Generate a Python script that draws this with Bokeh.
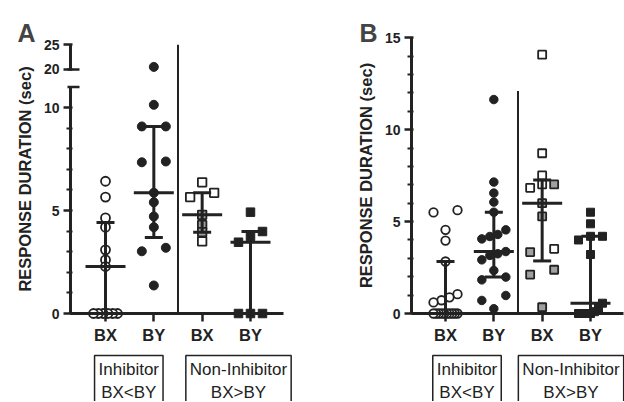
import numpy as np
from bokeh.plotting import figure
from bokeh.models import FixedTicker, Label, LinearAxis
from bokeh.layouts import row
from bokeh.embed import file_html
from bokeh.resources import INLINE

# ---------------- data ----------------
categories = ["BX", "BY", "BX", "BY"]
group_names = ["Inhibitor\nBX<BY", "Non-Inhibitor\nBX>BY"]
y_title = "RESPONSE DURATION (sec)"

# Panel A
a_inh_bx = [6.42, 5.65, 4.64, 4.19, 3.09, 2.60, 2.28, 0, 0, 0, 0, 0, 0]
a_inh_by = [20.5, 10.13, 9.08, 9.08, 7.38, 7.34, 5.86, 5.40, 4.71, 4.19, 3.19, 3.02, 1.36]
a_non_bx = [6.37, 5.86, 5.65, 4.79, 4.30, 3.95, 3.50]
a_non_bx_subgroup = [0, 0, 0, 1, 1, 1, 0]
a_non_by = [4.92, 3.98, 3.74, 3.46, 0, 0, 0]

# Panel B
b_inh_bx = [5.62, 5.50, 4.55, 3.97, 2.83, 1.05, 0.88, 0.72, 0.60,
            0, 0, 0, 0, 0, 0, 0, 0, 0, 0]
b_inh_by = [11.64, 7.15, 6.55, 6.06, 5.51, 4.55, 4.30, 4.19, 4.06, 3.37,
            3.25, 3.16, 2.92, 2.34, 1.98, 1.83, 0.98, 0.71, 0.26]
b_non_bx = [14.08, 8.72, 7.51, 7.02, 7.02, 6.84, 6.00, 5.28, 3.52, 3.34,
            2.38, 2.12, 0.34]
b_non_bx_subgroup = [0, 0, 0, 1, 0, 0, 1, 1, 0, 1, 1, 1, 1]
b_non_by = [5.51, 4.88, 4.20, 4.20, 4.00, 3.21, 0.56, 0.30, 0.10, 0, 0, 0, 0]

# ---------------- styling / layout ----------------
INK = "#222222"
GREY = "#a0a0a0"
FONT = "Liberation Sans"
PPU_X = 48.33          # px per category step
W, H = 312, 401
ZERO_PX = 313          # page y of value 0


def swarm(vals, ppu_y, gap_px=6.0, width_px=24.0):
    order = sorted(range(len(vals)), key=lambda i: -vals[i])
    rows = []
    for i in order:
        if rows and (vals[rows[-1][-1]] - vals[i]) * ppu_y <= gap_px:
            rows[-1].append(i)
        else:
            rows.append([i])
    offs = [0.0] * len(vals)
    for r in rows:
        k = len(r)
        if k > 1:
            step = width_px / (k - 1)
            for j, i in enumerate(reversed(r)):
                offs[i] = (j - (k - 1) / 2) * step / PPU_X
    return offs


def style_axis(ax):
    ax.axis_line_color = INK
    ax.axis_line_width = 3
    ax.major_tick_line_color = INK
    ax.minor_tick_line_color = INK
    ax.major_tick_line_width = 2.5
    ax.minor_tick_line_width = 2
    ax.major_label_text_font = FONT
    ax.major_label_text_font_style = "bold"
    ax.major_label_text_color = INK


def build(letter, groups, subgroup, tf, ppu_y, origin_x, cat0_px, axis_px, right_px,
          y_axes, y_top, caps, sep_top, box_x, letter_px, msize):
    px2x = lambda px: (px - cat0_px) / PPU_X
    x_start, x_end = px2x(origin_x), px2x(origin_x + W)
    y_start, y_end = (ZERO_PX - H) / ppu_y, ZERO_PX / ppu_y
    p = figure(width=W, height=H, x_range=(x_start, x_end), y_range=(y_start, y_end),
               output_backend="svg", toolbar_location=None,
               x_axis_location=None, y_axis_location=None, min_border=0)
    p.outline_line_color = None
    p.grid.visible = False
    p.background_fill_color = "white"
    p.border_fill_color = "white"
    xa = px2x(axis_px)

    # points
    for gi, vals in enumerate(groups):
        tv = [tf(v) for v in vals]
        offs = swarm(tv, ppu_y)
        xs = [gi + o for o in offs]
        if gi == 0:
            p.scatter(xs, tv, marker="circle", size=msize, fill_color="white",
                      line_color=INK, line_width=1.8)
        elif gi == 1:
            p.scatter(xs, tv, marker="circle", size=msize, fill_color=INK,
                      line_color=INK, line_width=1)
        elif gi == 2:
            fills = [GREY if s else "white" for s in subgroup]
            p.scatter(xs, tv, marker="square", size=msize - 0.5, fill_color=fills,
                      line_color=INK, line_width=1.8)
        else:
            p.scatter(xs, tv, marker="square", size=msize - 0.5, fill_color=INK,
                      line_color=INK, line_width=1)

    # median with interquartile range
    capw = 9 / PPU_X
    medw = 20 / PPU_X
    for gi, vals in enumerate(groups):
        q1, med, q3 = np.percentile(vals, [25, 50, 75], method="weibull")
        q1, med, q3 = tf(q1), tf(med), tf(q3)
        p.segment(x0=[gi, gi - capw, gi - capw, gi - medw],
                  y0=[q1, q1, q3, med],
                  x1=[gi, gi + capw, gi + capw, gi + medw],
                  y1=[q3, q1, q3, med], line_color=INK, line_width=3)

    # separator between the two groups
    p.segment(x0=[1.5], y0=[0], x1=[1.5], y1=[sep_top], line_color=INK, line_width=2)

    # axis break caps
    if caps:
        p.segment(x0=[xa - 3 / PPU_X] * len(caps), y0=caps,
                  x1=[xa + 9 / PPU_X] * len(caps), y1=caps,
                  line_color=INK, line_width=2.5)

    # y axes (one per unbroken segment), drawn at a fixed location
    for bounds, ticks, minor, overrides in y_axes:
        ax = LinearAxis(fixed_location=xa, bounds=bounds,
                        ticker=FixedTicker(ticks=ticks, minor_ticks=minor),
                        major_label_overrides=overrides)
        style_axis(ax)
        ax.major_tick_out = 7
        ax.major_tick_in = 2
        ax.minor_tick_out = 4
        ax.minor_tick_in = 2
        ax.major_label_text_font_size = "14px"
        ax.major_label_standoff = 4
        p.add_layout(ax, "left")

    # axis carrying only the title, centred on the whole axis extent
    tax = LinearAxis(fixed_location=xa, bounds=(0, y_top),
                     ticker=FixedTicker(ticks=[], minor_ticks=[]))
    tax.axis_line_alpha = 0
    tax.major_tick_out = 0
    tax.major_tick_in = 0
    tax.minor_tick_out = 0
    tax.minor_tick_in = 0
    tax.axis_label = y_title
    tax.axis_label_text_font = FONT
    tax.axis_label_text_font_style = "bold"
    tax.axis_label_text_font_size = "16.5px"
    tax.axis_label_text_color = INK
    tax.axis_label_standoff = 37
    p.add_layout(tax, "left")

    # x axis at value 0
    xax = LinearAxis(fixed_location=0, bounds=(xa, px2x(right_px)),
                     ticker=FixedTicker(ticks=list(range(len(categories))), minor_ticks=[]),
                     major_label_overrides={i: c for i, c in enumerate(categories)})
    style_axis(xax)
    xax.major_tick_out = 8
    xax.major_tick_in = 0
    xax.minor_tick_out = 0
    xax.minor_tick_in = 0
    xax.major_label_text_font_size = "16.5px"
    xax.major_label_standoff = 4
    p.add_layout(xax, "below")

    # panel letter
    p.add_layout(Label(x=px2x(letter_px), y=(ZERO_PX - 32) / ppu_y,
                       text=letter, text_font=FONT, text_font_style="bold",
                       text_font_size="25px", text_color="#444444",
                       text_baseline="alphabetic"))
    # group boxes
    for bx, name in zip(box_x, group_names):
        p.add_layout(Label(x=bx, y=(ZERO_PX - 355) / ppu_y, text=name,
                           text_align="center", text_baseline="top",
                           text_font=FONT, text_font_size="17px",
                           text_color=INK, text_line_height=1.22,
                           border_line_color=INK, border_line_width=1.5,
                           background_fill_color="white", padding=4))
    return p


def tf_a(v):
    return v if v <= 11 else 11.85 + (v - 20) * 0.24


def tf_b(v):
    return v


pA = build("A", [a_inh_bx, a_inh_by, a_non_bx, a_non_by], a_non_bx_subgroup, tf_a,
           20.6, 0, 105, 70, 283,
           [((0, 11), [0, 5, 10], [1, 2, 3, 4, 6, 7, 8, 9], {}),
            ((11.85, 13.05), [11.85, 13.05], [], {11.85: "20", 13.05: "25"})],
           13.05, [11, 11.85], 13.05, [0.482, 2.752], 17, 9)

pB = build("B", [b_inh_bx, b_inh_by, b_non_bx, b_non_by], b_non_bx_subgroup, tf_b,
           18.38, 312, 445, 411, 623,
           [((0, 15), [0, 5, 10, 15], [1, 2, 3, 4, 6, 7, 8, 9, 11, 12, 13, 14], {})],
           15, [], 12.1, [0.445, 2.597], 359, 8.5)

layout = row(pA, pB)
open("out.html", "w").write(file_html(layout, INLINE))
